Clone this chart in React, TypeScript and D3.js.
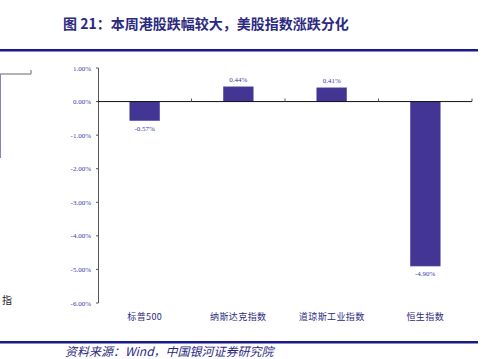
import React from "react";
import * as d3 from "d3";

const categories = ["标普500", "纳斯达克指数", "道琼斯工业指数", "恒生指数"];
const values = [-0.57, 0.44, 0.41, -4.9];
const yTicks = [1, 0, -1, -2, -3, -4, -5, -6];

const W = 496;
const H = 359;

export default function App() {
  const x = d3.scaleBand().domain(categories).range([98, 472]).paddingInner(0).paddingOuter(0);
  const y = d3.scaleLinear().domain([-6, 1]).range([303, 68]);
  const barW = 30;
  const fmt = (v: number) => v.toFixed(2) + "%";
  const navy = "#2b2a80";
  const barColor = "#433594";

  return (
    <svg width={W} height={H} style={{ position: "absolute", left: 0, top: 0 }}>
      <rect x={0} y={0} width={W} height={H} fill="#fff" />
      {/* title */}
      <text x={63} y={29} fontFamily="'Noto Sans CJK SC'" fontWeight="bold" fontSize={14} fill={navy}>
        图 21：本周港股跌幅较大，美股指数涨跌分化
      </text>
      <rect x={0} y={49} width={478} height={2.5} fill="#1a1a8c" />
      {/* left leftover chart fragments */}
      <line x1={0} y1={74} x2={31} y2={74} stroke="#666" strokeWidth={1} />
      <line x1={31} y1={74} x2={31} y2={70} stroke="#666" strokeWidth={1} />
      <line x1={0.5} y1={74} x2={0.5} y2={158} stroke="#8a80c8" strokeWidth={1} />
      <text x={2} y={304} fontFamily="'Noto Sans CJK SC'" fontSize={10} fill="#222">指</text>
      {/* y axis */}
      <line x1={98.5} y1={y(1)} x2={98.5} y2={y(-6)} stroke="#555" strokeWidth={1} />
      {yTicks.map((t) => (
        <g key={t}>
          <line x1={96} x2={98.5} y1={y(t)} y2={y(t)} stroke="#555" strokeWidth={1} />
          <text x={91} y={y(t) + 2.5} textAnchor="end" fontFamily="'Liberation Serif', serif" fontSize={7} fill="#3a3aa8">
            {fmt(t)}
          </text>
        </g>
      ))}
      {/* bars */}
      {categories.map((c, i) => {
        const v = values[i];
        const cx = (x(c) as number) + x.bandwidth() / 2;
        const y0 = y(0);
        const y1 = y(v);
        return (
          <g key={c}>
            <rect
              x={cx - barW / 2}
              y={Math.min(y0, y1)}
              width={barW}
              height={Math.abs(y1 - y0)}
              fill={barColor}
              stroke="#6a5fb8"
              strokeWidth={0.5}
            />
            <text
              x={cx}
              y={v >= 0 ? y1 - 5 : y1 + 10}
              textAnchor="middle"
              fontFamily="'Liberation Serif', serif"
              fontSize={7}
              fill="#3a3aa8"
            >
              {fmt(v)}
            </text>
            <text
              x={cx}
              y={320}
              textAnchor="middle"
              fontFamily="'Noto Sans CJK SC'"
              fontSize={9}
              letterSpacing={0.4}
              fill={navy}
            >
              {c}
            </text>
          </g>
        );
      })}
      {/* zero line */}
      <line x1={98} x2={472} y1={y(0)} y2={y(0)} stroke="#111" strokeWidth={1} />
      {categories.map((c, i) => (
        <line
          key={"t" + i}
          x1={(x(c) as number) + x.bandwidth()}
          x2={(x(c) as number) + x.bandwidth()}
          y1={y(0) - 3}
          y2={y(0)}
          stroke="#555"
          strokeWidth={1}
        />
      ))}
      <rect x={0} y={341} width={478} height={2.5} fill="#1a1a8c" />
      <text x={65} y={356} fontFamily="'Noto Sans CJK SC'" fontStyle="italic" fontSize={12} fill={navy}>
        资料来源：Wind，中国银河证券研究院
      </text>
    </svg>
  );
}
